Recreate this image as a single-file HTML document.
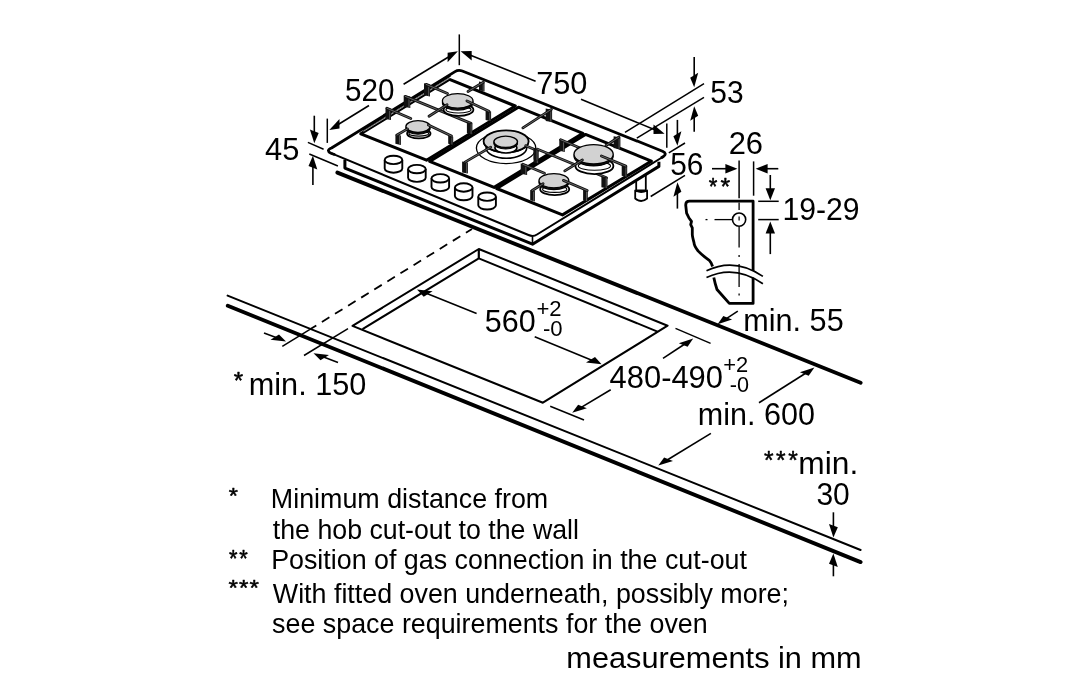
<!DOCTYPE html>
<html><head><meta charset="utf-8"><style>
html,body{margin:0;padding:0;background:#fff;}
svg{display:block;will-change:transform;}
text{font-family:"Liberation Sans",sans-serif;fill:#000;stroke:none;}
</style></head><body>
<svg width="1091" height="700" viewBox="0 0 1091 700" stroke="#000" stroke-linecap="butt" stroke-linejoin="round">
<line x1="227.6" y1="295.6" x2="860.6" y2="550.0" stroke-width="2.0" stroke-linecap="round"/>
<line x1="227.8" y1="305.7" x2="860.6" y2="562.1" stroke-width="3.9" stroke-linecap="round"/>
<line x1="337.4" y1="172.6" x2="860.6" y2="382.7" stroke-width="3.9" stroke-linecap="round"/>
<path d="M352.5,325.9 L478.8,249.0 L667.6,325.7 L542.9,402.7 Z" stroke-width="2.0" fill="none" />
<path d="M362.5,329.1 L478.8,258.4 L657.5,331.6" stroke-width="2.0" fill="none" />
<line x1="478.8" y1="249.0" x2="478.8" y2="258.4" stroke-width="2.2" />
<line x1="282.3" y1="346.4" x2="310.0" y2="329.3" stroke-width="1.5" />
<line x1="310.0" y1="329.3" x2="472.0" y2="229.0" stroke-width="1.8" stroke-dasharray="8.8 6.6" stroke-dashoffset="1.4"/>
<line x1="304.0" y1="355.5" x2="348.0" y2="328.6" stroke-width="1.5" />
<line x1="264.0" y1="333.0" x2="276.7" y2="337.8" stroke-width="1.6"/>
<path d="M286.0,341.4 L279.0,334.5 L270.5,339.8 Z" fill="#000" stroke="none"/>
<line x1="338.0" y1="362.5" x2="322.9" y2="356.8" stroke-width="1.6"/>
<path d="M313.5,353.3 L329.0,354.9 L320.5,360.2 Z" fill="#000" stroke="none"/>
<line x1="476.6" y1="313.4" x2="426.3" y2="293.3" stroke-width="1.6"/>
<path d="M417.0,289.6 L432.6,291.3 L423.7,296.8 Z" fill="#000" stroke="none"/>
<line x1="534.7" y1="336.7" x2="592.4" y2="360.4" stroke-width="1.6"/>
<path d="M601.6,364.2 L595.0,356.9 L586.0,362.4 Z" fill="#000" stroke="none"/>
<line x1="675.5" y1="328.4" x2="710.6" y2="343.4" stroke-width="1.5" />
<line x1="550.2" y1="406.3" x2="584.0" y2="420.0" stroke-width="1.5" />
<line x1="663.0" y1="358.3" x2="684.8" y2="344.0" stroke-width="1.6"/>
<path d="M693.2,338.5 L687.6,346.8 L678.8,343.3 Z" fill="#000" stroke="none"/>
<line x1="610.7" y1="389.8" x2="580.8" y2="407.6" stroke-width="1.6"/>
<path d="M572.2,412.7 L586.9,408.3 L578.1,404.8 Z" fill="#000" stroke="none"/>
<line x1="737.8" y1="311.1" x2="726.0" y2="318.8" stroke-width="1.6"/>
<path d="M717.6,324.2 L732.1,319.4 L723.3,315.9 Z" fill="#000" stroke="none"/>
<line x1="759.0" y1="402.8" x2="806.0" y2="373.0" stroke-width="1.6"/>
<path d="M814.4,367.6 L808.7,375.8 L799.9,372.3 Z" fill="#000" stroke="none"/>
<line x1="710.9" y1="433.4" x2="666.8" y2="460.2" stroke-width="1.6"/>
<path d="M658.3,465.4 L673.0,460.9 L664.1,457.4 Z" fill="#000" stroke="none"/>
<line x1="833.4" y1="512.3" x2="833.4" y2="527.6" stroke-width="1.6"/>
<path d="M833.4,537.6 L837.8,527.3 L829.0,523.9 Z" fill="#000" stroke="none"/>
<line x1="833.4" y1="576.3" x2="833.4" y2="563.4" stroke-width="1.6"/>
<path d="M833.4,553.4 L837.8,567.1 L829.0,563.7 Z" fill="#000" stroke="none"/>
<path d="M636.2,166.0 L636.2,190.5 L645.8,190.5 L645.8,166.0" stroke-width="1.8" fill="#fff" />
<path d="M635.2,190.5 L635.2,198.5 Q641.1,203.5 647.1,198.5 L647.1,190.5 Q641.1,193.5 635.2,190.5 Z" stroke-width="1.8" fill="#fff" />
<path d="M344.9,159.7 L344.9,168.1 L532.5,244.2 L658.9,166.4 L658.9,161.8" stroke-width="3.0" fill="#fff" />
<line x1="532.5" y1="236.5" x2="532.5" y2="244.2" stroke-width="1.6" />
<path d="M331.5,148 L455,71.6 Q458.5,69.4 462.3,71 L662.5,151.2 Q667.5,153.5 663.5,156.5 L537,234.5 Q533,237 528.5,235 L331,153.2 Q325.5,150.5 331.5,148 Z" stroke-width="0" fill="#fff" stroke="none"/>
<path d="M335,154.7 L331,153.2 Q325.5,150.5 331.5,148 L455,71.6 Q458.5,69.4 462.3,71 L662.5,151.2 Q667.5,153.5 663.5,156.5 L661,158" stroke-width="2.8" fill="none" />
<path d="M663.5,156.5 L537,234.5 Q533,237 528.5,235 L331,153.2" stroke-width="2.0" fill="none" />
<path d="M360.8,133.8 L449.5,79.3 L515.3,106.0 L426.5,160.2 L360.8,133.8 Z" stroke-width="3.0" fill="none" />
<path d="M429.6,161.4 L518.4,107.2 L582.9,133.3 L494.1,187.4 Z" stroke-width="3.0" fill="none" />
<path d="M496.7,188.5 L585.5,134.4 L651.4,161.1 L562.5,214.9 Z" stroke-width="3.0" fill="none" />
<line x1="362.5" y1="130.0" x2="450.5" y2="75.8" stroke-width="1.5" />
<line x1="363.5" y1="131.3" x2="449.8" y2="78.0" stroke-width="0.8" stroke="#c8c8c8"/>
<path d="M384.7,159.9 L384.7,168.5 A8.8,4.2 0 0 0 402.3,168.5 L402.3,159.9" stroke-width="1.9" fill="#fff" />
<ellipse cx="393.5" cy="159.9" rx="8.8" ry="4.2" fill="#fff" stroke-width="1.9" />
<path d="M408.1,169.1 L408.1,177.7 A8.8,4.2 0 0 0 425.7,177.7 L425.7,169.1" stroke-width="1.9" fill="#fff" />
<ellipse cx="416.9" cy="169.1" rx="8.8" ry="4.2" fill="#fff" stroke-width="1.9" />
<path d="M431.5,178.3 L431.5,186.9 A8.8,4.2 0 0 0 449.1,186.9 L449.1,178.3" stroke-width="1.9" fill="#fff" />
<ellipse cx="440.3" cy="178.3" rx="8.8" ry="4.2" fill="#fff" stroke-width="1.9" />
<path d="M454.9,187.5 L454.9,196.1 A8.8,4.2 0 0 0 472.5,196.1 L472.5,187.5" stroke-width="1.9" fill="#fff" />
<ellipse cx="463.7" cy="187.5" rx="8.8" ry="4.2" fill="#fff" stroke-width="1.9" />
<path d="M478.3,196.7 L478.3,205.3 A8.8,4.2 0 0 0 495.9,205.3 L495.9,196.7" stroke-width="1.9" fill="#fff" />
<ellipse cx="487.1" cy="196.7" rx="8.8" ry="4.2" fill="#fff" stroke-width="1.9" />
<path d="M403.7,95.4 L410.3,96.6 L410.3,108.0 L403.7,106.8 Z" fill="#111" stroke="none"/>
<line x1="409.0" y1="96.9" x2="409.0" y2="107.5" stroke="#777" stroke-width="0.7"/>
<line x1="405.3" y1="96.4" x2="471.0" y2="123.4" stroke-width="2.8" stroke="#111" stroke-linecap="round"/>
<line x1="405.3" y1="96.4" x2="471.0" y2="123.4" stroke-width="0.7" stroke="#8a8a8a" stroke-linecap="round"/>
<path d="M466.9,122.3 L472.4,123.5 L472.4,134.4 L466.9,133.2 Z" fill="#111" stroke="none"/>
<line x1="471.1" y1="123.8" x2="471.1" y2="133.9" stroke="#777" stroke-width="0.7"/>
<ellipse cx="458.5" cy="109.7" rx="14.9" ry="6.2" fill="#fff" stroke-width="1.8" />
<ellipse cx="458.5" cy="109.7" rx="12.6" ry="3.3" fill="none" stroke-width="1.1" />
<path d="M385.5,107.5 L391.0,108.7 L391.0,120.1 L385.5,118.9 Z" fill="#111" stroke="none"/>
<line x1="389.7" y1="109.0" x2="389.7" y2="119.6" stroke="#777" stroke-width="0.7"/>
<line x1="387.0" y1="108.3" x2="410.8" y2="118.5" stroke-width="2.8" stroke="#111" stroke-linecap="round"/>
<line x1="387.0" y1="108.3" x2="410.8" y2="118.5" stroke-width="0.7" stroke="#8a8a8a" stroke-linecap="round"/>
<path d="M424.0,83.3 L430.0,84.5 L430.0,96.5 L424.0,95.3 Z" fill="#111" stroke="none"/>
<line x1="428.7" y1="84.8" x2="428.7" y2="96.0" stroke="#777" stroke-width="0.7"/>
<line x1="426.2" y1="84.4" x2="447.5" y2="93.5" stroke-width="2.8" stroke="#111" stroke-linecap="round"/>
<line x1="426.2" y1="84.4" x2="447.5" y2="93.5" stroke-width="0.7" stroke="#8a8a8a" stroke-linecap="round"/>
<path d="M479.0,81.6 L484.5,82.8 L484.5,91.5 L479.0,90.3 Z" fill="#111" stroke="none"/>
<line x1="483.2" y1="83.1" x2="483.2" y2="91.0" stroke="#777" stroke-width="0.7"/>
<line x1="483.4" y1="82.2" x2="468.0" y2="91.5" stroke-width="2.8" stroke="#111" stroke-linecap="round"/>
<line x1="483.4" y1="82.2" x2="468.0" y2="91.5" stroke-width="0.7" stroke="#8a8a8a" stroke-linecap="round"/>
<path d="M485.6,110.2 L491.1,111.4 L491.1,121.2 L485.6,120.0 Z" fill="#111" stroke="none"/>
<line x1="489.8" y1="111.7" x2="489.8" y2="120.7" stroke="#777" stroke-width="0.7"/>
<ellipse cx="457.7" cy="102.8" rx="15.3" ry="7.3" fill="#111" stroke-width="1.2" />
<ellipse cx="457.7" cy="100.9" rx="15.3" ry="7.3" fill="#d2d2d2" stroke-width="1.3" />
<line x1="447.1" y1="104.7" x2="429.0" y2="116.3" stroke-width="2.8" stroke="#111" stroke-linecap="round"/>
<line x1="447.1" y1="104.7" x2="429.0" y2="116.3" stroke-width="0.7" stroke="#8a8a8a" stroke-linecap="round"/>
<line x1="466.9" y1="100.9" x2="488.9" y2="111.3" stroke-width="2.8" stroke="#111" stroke-linecap="round"/>
<line x1="466.9" y1="100.9" x2="488.9" y2="111.3" stroke-width="0.7" stroke="#8a8a8a" stroke-linecap="round"/>
<ellipse cx="418.8" cy="133.5" rx="11.7" ry="4.9" fill="#fff" stroke-width="1.8" />
<ellipse cx="418.8" cy="133.5" rx="9.9" ry="2.6" fill="none" stroke-width="1.1" />
<path d="M395.4,134.4 L400.9,135.6 L400.9,145.0 L395.4,143.8 Z" fill="#111" stroke="none"/>
<line x1="399.6" y1="135.9" x2="399.6" y2="144.5" stroke="#777" stroke-width="0.7"/>
<path d="M448.2,135.5 L453.2,136.7 L453.2,145.0 L448.2,143.8 Z" fill="#111" stroke="none"/>
<line x1="451.9" y1="137.0" x2="451.9" y2="144.5" stroke="#777" stroke-width="0.7"/>
<ellipse cx="418.0" cy="128.4" rx="12.1" ry="5.8" fill="#111" stroke-width="1.2" />
<ellipse cx="418.0" cy="126.5" rx="12.1" ry="5.8" fill="#d2d2d2" stroke-width="1.3" />
<line x1="407.5" y1="128.9" x2="397.0" y2="135.0" stroke-width="2.8" stroke="#111" stroke-linecap="round"/>
<line x1="407.5" y1="128.9" x2="397.0" y2="135.0" stroke-width="0.7" stroke="#8a8a8a" stroke-linecap="round"/>
<line x1="428.4" y1="125.0" x2="451.5" y2="136.0" stroke-width="2.8" stroke="#111" stroke-linecap="round"/>
<line x1="428.4" y1="125.0" x2="451.5" y2="136.0" stroke-width="0.7" stroke="#8a8a8a" stroke-linecap="round"/>
<path d="M545.7,108.6 L552.1,109.8 L552.1,122.1 L545.7,120.9 Z" fill="#111" stroke="none"/>
<line x1="550.8" y1="110.1" x2="550.8" y2="121.6" stroke="#777" stroke-width="0.7"/>
<line x1="551.4" y1="109.3" x2="522.9" y2="127.9" stroke-width="2.8" stroke="#111" stroke-linecap="round"/>
<line x1="551.4" y1="109.3" x2="522.9" y2="127.9" stroke-width="0.7" stroke="#8a8a8a" stroke-linecap="round"/>
<ellipse cx="506.1" cy="148.0" rx="29.7" ry="15.6" fill="none" stroke-width="1.3" />
<ellipse cx="506.4" cy="148.0" rx="20.3" ry="10.2" fill="none" stroke-width="1.6" />
<ellipse cx="506.1" cy="141.8" rx="22.5" ry="10.9" fill="#111" stroke-width="1.2" />
<ellipse cx="506.1" cy="141.3" rx="22.5" ry="10.9" fill="#d2d2d2" stroke-width="1.8" />
<ellipse cx="505.9" cy="147.8" rx="11.0" ry="5.2" fill="#fff" stroke-width="1.6" />
<ellipse cx="505.7" cy="143.3" rx="11.8" ry="5.7" fill="#111" stroke-width="1.2" />
<ellipse cx="505.7" cy="141.8" rx="11.8" ry="5.7" fill="#d2d2d2" stroke-width="1.4" />
<path d="M462.1,161.4 L467.9,162.6 L467.9,173.6 L462.1,172.4 Z" fill="#111" stroke="none"/>
<line x1="466.6" y1="162.9" x2="466.6" y2="173.1" stroke="#777" stroke-width="0.7"/>
<line x1="490.7" y1="147.1" x2="465.0" y2="162.1" stroke-width="2.8" stroke="#111" stroke-linecap="round"/>
<line x1="490.7" y1="147.1" x2="465.0" y2="162.1" stroke-width="0.7" stroke="#8a8a8a" stroke-linecap="round"/>
<path d="M533.6,149.3 L538.6,150.5 L538.6,163.6 L533.6,162.4 Z" fill="#111" stroke="none"/>
<line x1="537.3" y1="150.8" x2="537.3" y2="163.1" stroke="#777" stroke-width="0.7"/>
<line x1="525.7" y1="145.7" x2="537.5" y2="150.7" stroke-width="2.8" stroke="#111" stroke-linecap="round"/>
<line x1="525.7" y1="145.7" x2="537.5" y2="150.7" stroke-width="0.7" stroke="#8a8a8a" stroke-linecap="round"/>
<path d="M533.6,147.8 L538.3,149.0 L538.3,160.7 L533.6,159.5 Z" fill="#111" stroke="none"/>
<line x1="537.0" y1="149.3" x2="537.0" y2="160.2" stroke="#777" stroke-width="0.7"/>
<line x1="537.6" y1="149.2" x2="606.5" y2="177.7" stroke-width="2.8" stroke="#111" stroke-linecap="round"/>
<line x1="537.6" y1="149.2" x2="606.5" y2="177.7" stroke-width="0.7" stroke="#8a8a8a" stroke-linecap="round"/>
<path d="M601.4,176.3 L607.5,177.5 L607.5,188.5 L601.4,187.3 Z" fill="#111" stroke="none"/>
<line x1="606.2" y1="177.8" x2="606.2" y2="188.0" stroke="#777" stroke-width="0.7"/>
<ellipse cx="594.4" cy="165.9" rx="19.0" ry="8.2" fill="#fff" stroke-width="1.8" />
<ellipse cx="594.4" cy="165.9" rx="16.1" ry="4.3" fill="none" stroke-width="1.1" />
<path d="M559.3,139.0 L564.8,140.2 L564.8,151.9 L559.3,150.7 Z" fill="#111" stroke="none"/>
<line x1="563.5" y1="140.5" x2="563.5" y2="151.4" stroke="#777" stroke-width="0.7"/>
<line x1="560.7" y1="139.7" x2="580.0" y2="148.0" stroke-width="2.8" stroke="#111" stroke-linecap="round"/>
<line x1="560.7" y1="139.7" x2="580.0" y2="148.0" stroke-width="0.7" stroke="#8a8a8a" stroke-linecap="round"/>
<path d="M613.6,136.3 L620.4,137.5 L620.4,149.2 L613.6,148.0 Z" fill="#111" stroke="none"/>
<line x1="619.1" y1="137.8" x2="619.1" y2="148.7" stroke="#777" stroke-width="0.7"/>
<line x1="619.0" y1="137.0" x2="606.0" y2="145.5" stroke-width="2.8" stroke="#111" stroke-linecap="round"/>
<line x1="619.0" y1="137.0" x2="606.0" y2="145.5" stroke-width="0.7" stroke="#8a8a8a" stroke-linecap="round"/>
<path d="M621.7,164.8 L627.2,166.0 L627.2,177.0 L621.7,175.8 Z" fill="#111" stroke="none"/>
<line x1="625.9" y1="166.3" x2="625.9" y2="176.5" stroke="#777" stroke-width="0.7"/>
<ellipse cx="593.6" cy="156.2" rx="19.6" ry="9.7" fill="#111" stroke-width="1.2" />
<ellipse cx="593.6" cy="154.3" rx="19.6" ry="9.7" fill="#d2d2d2" stroke-width="1.3" />
<line x1="601.4" y1="156.0" x2="625.8" y2="166.1" stroke-width="2.8" stroke="#111" stroke-linecap="round"/>
<line x1="601.4" y1="156.0" x2="625.8" y2="166.1" stroke-width="0.7" stroke="#8a8a8a" stroke-linecap="round"/>
<line x1="582.4" y1="160.0" x2="564.8" y2="170.9" stroke-width="2.8" stroke="#111" stroke-linecap="round"/>
<line x1="582.4" y1="160.0" x2="564.8" y2="170.9" stroke-width="0.7" stroke="#8a8a8a" stroke-linecap="round"/>
<path d="M520.7,163.6 L527.1,164.8 L527.1,175.0 L520.7,173.8 Z" fill="#111" stroke="none"/>
<line x1="525.8" y1="165.1" x2="525.8" y2="174.5" stroke="#777" stroke-width="0.7"/>
<line x1="522.9" y1="164.3" x2="544.5" y2="173.3" stroke-width="2.8" stroke="#111" stroke-linecap="round"/>
<line x1="522.9" y1="164.3" x2="544.5" y2="173.3" stroke-width="0.7" stroke="#8a8a8a" stroke-linecap="round"/>
<ellipse cx="554.7" cy="189.2" rx="14.5" ry="6.0" fill="#fff" stroke-width="1.8" />
<ellipse cx="554.7" cy="189.2" rx="12.2" ry="3.2" fill="none" stroke-width="1.1" />
<path d="M530.2,189.9 L534.9,191.1 L534.9,201.4 L530.2,200.2 Z" fill="#111" stroke="none"/>
<line x1="533.6" y1="191.4" x2="533.6" y2="200.9" stroke="#777" stroke-width="0.7"/>
<path d="M583.1,189.2 L587.8,190.4 L587.8,201.4 L583.1,200.2 Z" fill="#111" stroke="none"/>
<line x1="586.5" y1="190.7" x2="586.5" y2="200.9" stroke="#777" stroke-width="0.7"/>
<ellipse cx="553.9" cy="182.6" rx="14.9" ry="7.1" fill="#111" stroke-width="1.2" />
<ellipse cx="553.9" cy="180.7" rx="14.9" ry="7.1" fill="#d2d2d2" stroke-width="1.3" />
<line x1="543.1" y1="183.8" x2="532.2" y2="190.5" stroke-width="2.8" stroke="#111" stroke-linecap="round"/>
<line x1="543.1" y1="183.8" x2="532.2" y2="190.5" stroke-width="0.7" stroke="#8a8a8a" stroke-linecap="round"/>
<line x1="563.4" y1="180.4" x2="587.2" y2="190.5" stroke-width="2.8" stroke="#111" stroke-linecap="round"/>
<line x1="563.4" y1="180.4" x2="587.2" y2="190.5" stroke-width="0.7" stroke="#8a8a8a" stroke-linecap="round"/>
<line x1="327.3" y1="118.6" x2="327.3" y2="142.9" stroke-width="1.5" />
<line x1="459.3" y1="34.4" x2="459.3" y2="65.2" stroke-width="1.5" />
<line x1="369.0" y1="105.5" x2="337.8" y2="124.7" stroke-width="1.6"/>
<path d="M329.3,130.0 L339.5,128.4 L339.5,119.0 Z" fill="#000" stroke="none"/>
<line x1="403.6" y1="84.2" x2="449.3" y2="56.5" stroke-width="1.6"/>
<path d="M457.9,51.3 L447.6,62.2 L447.6,52.8 Z" fill="#000" stroke="none"/>
<line x1="535.6" y1="81.3" x2="469.9" y2="55.0" stroke-width="1.6"/>
<path d="M460.6,51.3 L471.7,60.5 L471.7,51.1 Z" fill="#000" stroke="none"/>
<line x1="581.0" y1="99.3" x2="655.4" y2="130.0" stroke-width="1.6"/>
<path d="M664.6,133.8 L653.5,133.9 L653.5,124.5 Z" fill="#000" stroke="none"/>
<line x1="666.8" y1="123.5" x2="666.8" y2="147.7" stroke-width="1.5" />
<line x1="625.0" y1="132.3" x2="704.0" y2="83.7" stroke-width="1.5" />
<line x1="636.8" y1="138.2" x2="704.0" y2="97.4" stroke-width="1.5" />
<line x1="694.2" y1="57.0" x2="694.2" y2="77.2" stroke-width="1.6"/>
<path d="M694.2,87.2 L698.2,72.7 L690.2,77.7 Z" fill="#000" stroke="none"/>
<line x1="694.2" y1="131.7" x2="694.2" y2="116.2" stroke-width="1.6"/>
<path d="M694.2,106.2 L698.2,115.7 L690.2,120.7 Z" fill="#000" stroke="none"/>
<line x1="668.8" y1="152.9" x2="685.0" y2="143.0" stroke-width="1.5" />
<line x1="650.7" y1="196.5" x2="685.0" y2="175.3" stroke-width="1.5" />
<line x1="677.4" y1="119.9" x2="677.4" y2="135.8" stroke-width="1.6"/>
<path d="M677.4,145.8 L681.4,131.3 L673.4,136.3 Z" fill="#000" stroke="none"/>
<line x1="677.4" y1="208.6" x2="677.4" y2="192.3" stroke-width="1.6"/>
<path d="M677.4,182.3 L681.4,191.8 L673.4,196.8 Z" fill="#000" stroke="none"/>
<line x1="307.9" y1="142.4" x2="323.6" y2="149.3" stroke-width="1.5" />
<line x1="309.3" y1="154.0" x2="337.9" y2="166.0" stroke-width="1.5" />
<line x1="314.3" y1="115.7" x2="314.3" y2="133.2" stroke-width="1.6"/>
<path d="M314.3,143.2 L318.7,132.9 L309.9,129.5 Z" fill="#000" stroke="none"/>
<line x1="312.9" y1="185.0" x2="312.9" y2="165.7" stroke-width="1.6"/>
<path d="M312.9,155.7 L317.3,169.4 L308.5,166.0 Z" fill="#000" stroke="none"/>
<line x1="753.6" y1="161.4" x2="753.6" y2="195.7" stroke-width="1.5" />
<line x1="712.0" y1="168.7" x2="727.4" y2="168.7" stroke-width="1.6"/>
<path d="M737.4,168.7 L725.4,173.4 L725.4,164.0 Z" fill="#000" stroke="none"/>
<line x1="778.3" y1="168.7" x2="765.6" y2="168.7" stroke-width="1.6"/>
<path d="M755.6,168.7 L767.6,173.4 L767.6,164.0 Z" fill="#000" stroke="none"/>
<line x1="758.2" y1="201.3" x2="778.7" y2="201.3" stroke-width="1.5" />
<line x1="758.2" y1="219.6" x2="778.7" y2="219.6" stroke-width="1.5" />
<line x1="770.3" y1="175.0" x2="770.3" y2="190.2" stroke-width="1.6"/>
<path d="M770.3,200.2 L775.0,188.2 L765.6,188.2 Z" fill="#000" stroke="none"/>
<line x1="770.3" y1="254.1" x2="770.3" y2="231.6" stroke-width="1.6"/>
<path d="M770.3,221.6 L775.0,233.6 L765.6,233.6 Z" fill="#000" stroke="none"/>
<path d="M712.6,266.5 C711.5,263 710.5,261.5 709.6,260.7 C706,258 701,254 698,250.9 C695,247 694,244.5 694,242.6 C692.8,238 692.3,236 692.3,234.4 L692.3,227.9 L690.7,224.6 L691.5,221.3 L689,218 L686.6,213.1 L685.7,205 Q685.7,201.2 689.5,201.2 L753.1,201.2 L753.1,303.4 L729.3,303.4 L717,289.5 C715.5,285 714.5,281 713.8,277.5" stroke-width="2.8" fill="none" />
<path d="M705,274 Q734,260 764,280" stroke-width="6.0" fill="none" stroke="#fff"/>
<path d="M706.5,270.8 Q734.5,257 762.9,276.4" stroke-width="1.7" fill="none" />
<path d="M706.5,277.6 Q734.5,264 762.9,283.8" stroke-width="1.7" fill="none" />
<circle cx="739.1" cy="219.6" r="6.6" fill="none" stroke-width="1.6"/>
<line x1="739.1" y1="160.5" x2="739.1" y2="198.3" stroke-width="1.5" />
<line x1="739.1" y1="202.4" x2="739.1" y2="210.0" stroke-width="1.3" />
<line x1="739.1" y1="216.6" x2="739.1" y2="220.6" stroke-width="1.2" />
<line x1="739.1" y1="227.0" x2="739.1" y2="247.6" stroke-width="1.3" />
<line x1="739.1" y1="255.0" x2="739.1" y2="257.0" stroke-width="1.3" />
<line x1="739.1" y1="264.0" x2="739.1" y2="287.0" stroke-width="1.3" />
<line x1="739.1" y1="293.5" x2="739.1" y2="295.5" stroke-width="1.3" />
<line x1="705.5" y1="219.6" x2="707.5" y2="219.6" stroke-width="1.3" />
<line x1="714.5" y1="219.6" x2="732.6" y2="219.6" stroke-width="1.3" />
<text x="345.06" y="100.50" font-size="31.5" textLength="49.41" lengthAdjust="spacingAndGlyphs">520</text>
<text x="536.15" y="94.00" font-size="31.5" textLength="51.28" lengthAdjust="spacingAndGlyphs">750</text>
<text x="710.25" y="103.30" font-size="31.5" textLength="33.35" lengthAdjust="spacingAndGlyphs">53</text>
<text x="265.02" y="160.00" font-size="31.5" textLength="34.30" lengthAdjust="spacingAndGlyphs">45</text>
<text x="670.15" y="174.90" font-size="31.5" textLength="33.14" lengthAdjust="spacingAndGlyphs">56</text>
<text x="728.64" y="154.40" font-size="31.5" textLength="34.39" lengthAdjust="spacingAndGlyphs">26</text>
<text x="782.39" y="220.00" font-size="31.5" textLength="77.12" lengthAdjust="spacingAndGlyphs">19-29</text>
<text x="484.73" y="332.00" font-size="31.5" textLength="50.88" lengthAdjust="spacingAndGlyphs">560</text>
<text x="536.40" y="316.10" font-size="22" textLength="25.20" lengthAdjust="spacingAndGlyphs">+2</text>
<text x="542.99" y="336.40" font-size="22" textLength="19.67" lengthAdjust="spacingAndGlyphs">-0</text>
<text x="609.62" y="388.10" font-size="31.5" textLength="113.36" lengthAdjust="spacingAndGlyphs">480-490</text>
<text x="723.20" y="372.20" font-size="22" textLength="24.98" lengthAdjust="spacingAndGlyphs">+2</text>
<text x="729.82" y="392.00" font-size="22" textLength="19.24" lengthAdjust="spacingAndGlyphs">-0</text>
<text x="743.26" y="330.60" font-size="31.5" textLength="100.42" lengthAdjust="spacingAndGlyphs">min. 55</text>
<text x="697.86" y="425.30" font-size="31.5" textLength="117.04" lengthAdjust="spacingAndGlyphs">min. 600</text>
<text x="248.75" y="394.50" font-size="31.5" textLength="117.65" lengthAdjust="spacingAndGlyphs">min. 150</text>
<text x="798.29" y="473.80" font-size="31.5" textLength="59.95" lengthAdjust="spacingAndGlyphs">min.</text>
<text x="816.45" y="504.60" font-size="31.5" textLength="33.35" lengthAdjust="spacingAndGlyphs">30</text>
<text x="566.35" y="667.80" font-size="30" textLength="295.30" lengthAdjust="spacingAndGlyphs">measurements in mm</text>
<text x="270.83" y="507.80" font-size="27.3" textLength="277.39" lengthAdjust="spacingAndGlyphs">Minimum distance from</text>
<text x="272.80" y="538.70" font-size="27.3" textLength="306.18" lengthAdjust="spacingAndGlyphs">the hob cut-out to the wall</text>
<text x="271.13" y="569.40" font-size="27.3" textLength="475.84" lengthAdjust="spacingAndGlyphs">Position of gas connection in the cut-out</text>
<text x="272.80" y="602.90" font-size="27.3" textLength="516.17" lengthAdjust="spacingAndGlyphs">With fitted oven underneath, possibly more;</text>
<text x="272.12" y="633.00" font-size="27.3" textLength="435.54" lengthAdjust="spacingAndGlyphs">see space requirements for the oven</text>
<text x="708.85" y="194.80" font-size="23.4" textLength="8.65" lengthAdjust="spacingAndGlyphs" style="stroke:#000;stroke-width:0.5px">*</text>
<text x="720.64" y="194.80" font-size="23.4" textLength="9.68" lengthAdjust="spacingAndGlyphs" style="stroke:#000;stroke-width:0.5px">*</text>
<text x="233.85" y="389.10" font-size="23.0" textLength="9.40" lengthAdjust="spacingAndGlyphs" style="stroke:#000;stroke-width:0.5px">*</text>
<text x="763.96" y="469.20" font-size="26.0" textLength="9.56" lengthAdjust="spacingAndGlyphs" style="stroke:#000;stroke-width:0.5px">*</text>
<text x="776.06" y="469.20" font-size="26.0" textLength="9.56" lengthAdjust="spacingAndGlyphs" style="stroke:#000;stroke-width:0.5px">*</text>
<text x="788.16" y="469.20" font-size="26.0" textLength="9.56" lengthAdjust="spacingAndGlyphs" style="stroke:#000;stroke-width:0.5px">*</text>
<text x="228.84" y="502.80" font-size="22.3" textLength="9.18" lengthAdjust="spacingAndGlyphs" style="stroke:#000;stroke-width:0.5px">*</text>
<text x="228.95" y="566.70" font-size="23.0" textLength="8.51" lengthAdjust="spacingAndGlyphs" style="stroke:#000;stroke-width:0.5px">*</text>
<text x="239.35" y="566.70" font-size="23.0" textLength="8.51" lengthAdjust="spacingAndGlyphs" style="stroke:#000;stroke-width:0.5px">*</text>
<text x="228.51" y="595.40" font-size="22.3" textLength="9.43" lengthAdjust="spacingAndGlyphs" style="stroke:#000;stroke-width:0.5px">*</text>
<text x="239.01" y="595.40" font-size="22.3" textLength="9.43" lengthAdjust="spacingAndGlyphs" style="stroke:#000;stroke-width:0.5px">*</text>
<text x="249.61" y="595.40" font-size="22.3" textLength="9.43" lengthAdjust="spacingAndGlyphs" style="stroke:#000;stroke-width:0.5px">*</text>
</svg>
</body></html>
